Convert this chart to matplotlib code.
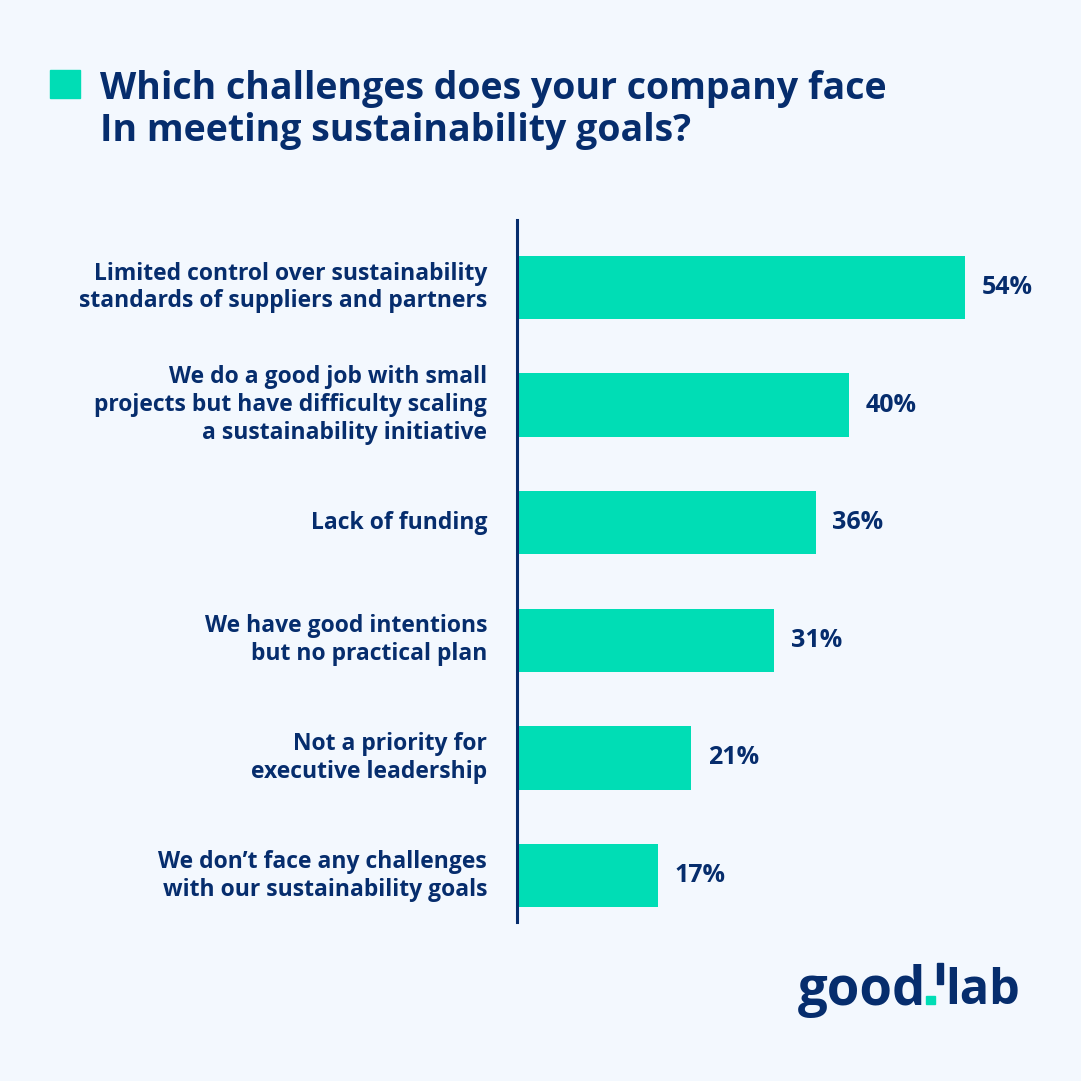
import matplotlib
matplotlib.use("Agg")
import matplotlib.pyplot as plt
from matplotlib.patches import Rectangle

# ------------------------------------------------------------------
# Datos
# ------------------------------------------------------------------
categorias = [
    "Limited control over sustainability\nstandards of suppliers and partners",
    "We do a good job with small\nprojects but have difficulty scaling\na sustainability initiative",
    "Lack of funding",
    "We have good intentions\nbut no practical plan",
    "Not a priority for\nexecutive leadership",
    "We don\u2019t face any challenges\nwith our sustainability goals",
]
valores = [54, 40, 36, 31, 21, 17]
etiquetas = [f"{v}%" for v in valores]

titulo = "Which challenges does your company face\nIn meeting sustainability goals?"

FONDO = "#F3F8FE"
VERDE = "#00DDB5"
AZUL = "#062D6D"
FUENTE = ["Open Sans", "DejaVu Sans"]

W = H = 1081
fig = plt.figure(figsize=(W / 100, H / 100), dpi=100, facecolor=FONDO)

# eje principal: linea vertical en x=517, de y=220 a y=922 (pixeles)
ax = fig.add_axes([517 / W, 1 - 922 / H, 540 / W, 702 / H])
ax.set_facecolor("none")

pos = list(range(len(valores)))
ax.barh(pos, valores, height=0.54, color=VERDE, zorder=2)
ax.set_xlim(0, 540 / 8.3)
ax.set_ylim(5.395, -0.574)

for y, v, t in zip(pos, valores, etiquetas):
    ax.text(v + 2.0, y, t, va="center", ha="left", fontsize=18,
            fontweight="bold", color=AZUL, family=FUENTE)

for y, c in zip(pos, categorias):
    ax.text(-3.6, y, c, va="center", ha="right", fontsize=16.5,
            fontweight="bold", color=AZUL, family=FUENTE,
            linespacing=1.22)

for s in ["top", "right", "bottom"]:
    ax.spines[s].set_visible(False)
ax.spines["left"].set_color(AZUL)
ax.spines["left"].set_linewidth(2.2)
ax.set_xticks([])
ax.set_yticks([])

# titulo con cuadrado verde
fig.patches.append(Rectangle((50 / W, 1 - 98 / H), 30 / W, 28 / H,
                             transform=fig.transFigure, color=VERDE))
fig.text(100 / W, 1 - 110 / H, titulo, ha="left", va="center",
         fontsize=27, fontweight="bold", color=AZUL, family=FUENTE,
         linespacing=1.13)

# logo good.lab
fig.text(798 / W, 1 - 991 / H, "good", ha="left", va="center",
         fontsize=38, fontweight="bold", color=AZUL, family=FUENTE)
fig.patches.append(Rectangle((926 / W, 1 - 1004 / H), 9 / W, 8 / H,
                             transform=fig.transFigure, color=VERDE))
fig.patches.append(Rectangle((937 / W, 1 - 984 / H), 6 / W, 21 / H,
                             transform=fig.transFigure, color=AZUL))
fig.text(945 / W, 1 - 991 / H, "lab", ha="left", va="center",
         fontsize=35, fontweight="bold", color=AZUL, family=FUENTE)

fig.savefig("out.png", dpi=100, facecolor=FONDO)
